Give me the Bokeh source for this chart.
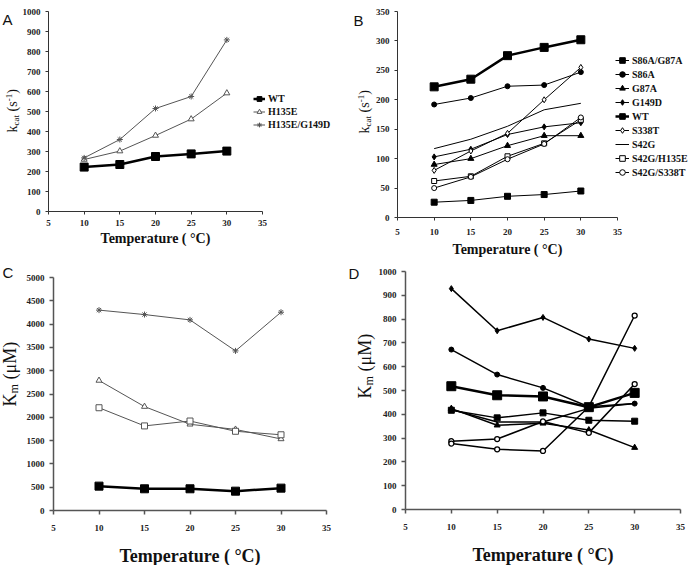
import numpy as np
from bokeh.plotting import figure
from bokeh.models import Legend, LegendItem, Label, Range1d, FixedTicker
from bokeh.layouts import column, row
from bokeh.embed import file_html
from bokeh.resources import INLINE

# ---------------- data ----------------
temperature = [10, 15, 20, 25, 30]
x_ticks = [5, 10, 15, 20, 25, 30, 35]

# Panel A: kcat (s^-1)
kcat_a_wt = [222, 235, 275, 288, 302]
kcat_a_h135e = [260, 302, 380, 462, 592]
kcat_a_h135e_g149d = [268, 360, 515, 575, 858]
ticks_a = list(range(0, 1001, 100))

# Panel B: kcat (s^-1)
kcat_b_s86a_g87a = [26, 29, 36, 39, 45]
kcat_b_s86a = [192, 203, 223, 225, 247]
kcat_b_g87a = [90, 100, 122, 139, 139]
kcat_b_g149d = [103, 116, 141, 154, 161]
kcat_b_wt = [222, 235, 275, 289, 302]
kcat_b_s338t = [80, 113, 143, 200, 255]
kcat_b_s42g = [117, 133, 155, 183, 194]
kcat_b_s42g_h135e = [62, 70, 104, 126, 166]
kcat_b_s42g_s338t = [50, 69, 99, 125, 170]
ticks_b = list(range(0, 351, 50))

# Panel C: Km (uM)
km_c_wt = [523, 466, 466, 415, 480]
km_c_h135e = [2790, 2230, 1850, 1740, 1535]
km_c_h135e_g149d = [4300, 4205, 4090, 3425, 4255]
km_c_s42g_h135e = [2205, 1815, 1920, 1700, 1625]
ticks_c = list(range(0, 5001, 500))

# Panel D: Km (uM)
km_d_g149d = [928, 751, 807, 716, 677]
km_d_s86a = [672, 567, 511, 432, 445]
km_d_wt = [518, 480, 475, 430, 490]
km_d_s86a_g87a = [417, 385, 406, 375, 371]
km_d_g87a = [424, 354, 362, 334, 260]
km_d_s42g = [420, 368, 368, 425, 445]
km_d_s42g_h135e = [287, 296, 370, 322, 527]
km_d_s42g_s338t = [277, 253, 246, 432, 815]
ticks_d = list(range(0, 1001, 100))

SERIF = "Liberation Serif"
SANS = "Liberation Sans"


def make_panel(W, H, ax_left, ax_right, ax_top, ax_bottom, ymax, yticks,
               tick_out=3, axis_color="#333333", axis_width=1,
               tick_standoff=5, xlabel_size="14px", xlabel_standoff=2):
    """The frame fills the whole panel; the axes sit at fixed data
    positions so that labels and legends in the margins are not clipped."""
    ppx = (ax_right - ax_left) / 30.0
    ppy = (ax_bottom - ax_top) / float(ymax)
    p = figure(width=W, height=H, output_backend="svg",
               toolbar_location=None,
               x_range=Range1d(5 - ax_left / ppx, 35 + (W - ax_right) / ppx),
               y_range=Range1d(-(H - ax_bottom) / ppy, ymax + ax_top / ppy),
               min_border=0)
    p.outline_line_color = None
    p.xgrid.visible = False
    p.ygrid.visible = False
    p.background_fill_color = "white"
    p.border_fill_color = "white"
    p.xaxis.ticker = FixedTicker(ticks=x_ticks)
    p.yaxis.ticker = FixedTicker(ticks=yticks)
    p.xaxis.fixed_location = 0
    p.yaxis.fixed_location = 5
    p.xaxis.bounds = (5, 35)
    p.yaxis.bounds = (0, ymax)
    for ax in (p.xaxis, p.yaxis):
        ax.axis_line_color = axis_color
        ax.axis_line_width = axis_width
        ax.major_tick_line_color = axis_color
        ax.major_tick_line_width = axis_width
        ax.major_tick_in = 0
        ax.major_tick_out = tick_out
        ax.minor_tick_line_color = None
        ax.major_label_text_font = SERIF
        ax.major_label_text_font_style = "bold"
        ax.major_label_text_font_size = "9px"
        ax.major_label_text_color = "#222222"
        ax.major_label_standoff = tick_standoff
    p.yaxis.major_label_standoff = 5
    p.xaxis.axis_label = "Temperature ( °C)"
    p.xaxis.axis_label_text_font = SERIF
    p.xaxis.axis_label_text_font_style = "bold"
    p.xaxis.axis_label_text_font_size = xlabel_size
    p.xaxis.axis_label_text_color = "#111111"
    p.xaxis.axis_label_standoff = xlabel_standoff
    return p


def series(p, ys, marker=None, size=5, fill="black", color="black",
           lw=1.0, mlw=1.0):
    rs = [p.line(temperature, ys, line_color=color, line_width=lw)]
    if marker is not None:
        rs.append(p.scatter(temperature, ys, marker=marker, size=size,
                            fill_color=fill, line_color=color,
                            line_width=mlw))
    return rs


def rotated_label(p, x, y, parts, color="#111111", style="normal"):
    # parts: (text, font size px, sideways shift, advance along the label)
    pos = y
    for text, size, shift, adv in parts:
        p.add_layout(Label(x=x + shift, y=pos, x_units="screen",
                           y_units="screen", text=text, angle=np.pi / 2,
                           text_font=SERIF, text_font_size=f"{size}px",
                           text_font_style=style, text_color=color,
                           text_align="left", text_baseline="middle"))
        pos += adv


def panel_letter(p, x, y, letter):
    p.add_layout(Label(x=x, y=y, x_units="screen", y_units="screen",
                       text=letter, text_font=SANS, text_font_size="15px",
                       text_color="#111111", text_baseline="alphabetic"))


def kcat_label(p, x, y):
    rotated_label(p, x, y, [("k", 14, 0, 7), ("cat", 9, 3, 14),
                            ("(s", 14, 0, 10.2), ("-1", 9, -4, 7.5),
                            (")", 14, 0, 5)])


def km_label(p, x, y):
    rotated_label(p, x, y, [("K", 18, 0, 13), ("m", 12, 4, 14),
                            ("(μM)", 18, 0, 40)])


def make_legend(items, x, y, row_h, glyph_w):
    return Legend(items=items, location=(x, y), label_text_font=SERIF,
                  label_text_font_style="bold", label_text_font_size="10px",
                  label_text_color="#111111", glyph_width=glyph_w,
                  glyph_height=row_h, label_height=row_h, spacing=0,
                  padding=0, margin=0, border_line_color=None,
                  background_fill_alpha=0, label_standoff=3)


# ---------------- panel A ----------------
pa = make_panel(345, 259, 48, 262, 11, 211, 1000, ticks_a)
r_wt = series(pa, kcat_a_wt, "square", 8, lw=2.5)
r_h = series(pa, kcat_a_h135e, "triangle", 6, fill="white", color="#555555")
r_hg = series(pa, kcat_a_h135e_g149d, "asterisk", 6, color="#555555")
pa.add_layout(make_legend([LegendItem(label="WT", renderers=r_wt),
                           LegendItem(label="H135E", renderers=r_h),
                           LegendItem(label="H135E/G149D", renderers=r_hg)],
                          253, 128, 13, 12))
kcat_label(pa, 12, 127)
panel_letter(pa, 2, 240, "A")

# ---------------- panel B ----------------
pb = make_panel(351, 259, 52, 272, 11, 217, 350, ticks_b,
                tick_standoff=8, xlabel_standoff=4)
b_items = [
    ("S86A/G87A", series(pb, kcat_b_s86a_g87a, "square", 6)),
    ("S86A", series(pb, kcat_b_s86a, "circle", 5)),
    ("G87A", series(pb, kcat_b_g87a, "triangle", 6)),
    ("G149D", series(pb, kcat_b_g149d, "diamond", 6)),
    ("WT", series(pb, kcat_b_wt, "square", 8, lw=2.5)),
    ("S338T", series(pb, kcat_b_s338t, "diamond", 6, fill="white")),
    ("S42G", series(pb, kcat_b_s42g)),
    ("S42G/H135E", series(pb, kcat_b_s42g_h135e, "square", 5, fill="white")),
    ("S42G/S338T", series(pb, kcat_b_s42g_s338t, "circle", 5, fill="white")),
]
pb.add_layout(make_legend([LegendItem(label=n, renderers=r) for n, r in b_items],
                          270, 80, 14, 14))
kcat_label(pb, 19, 126)
panel_letter(pb, 8, 239, "B")

# ---------------- panel C ----------------
pc = make_panel(345, 306, 53, 326, 18, 251, 5000, ticks_c, tick_out=4,
                axis_color="#555555", axis_width=1.5, tick_standoff=10,
                xlabel_size="18px", xlabel_standoff=12)
series(pc, km_c_h135e_g149d, "asterisk", 6, color="#555555")
series(pc, km_c_h135e, "triangle", 6, fill="white", color="#555555")
series(pc, km_c_s42g_h135e, "square", 6, fill="white", color="#555555")
series(pc, km_c_wt, "square", 8, lw=2.5)
km_label(pc, 9, 159)
panel_letter(pc, 2, 293, "C")

# ---------------- panel D ----------------
pd = make_panel(351, 306, 60, 335, 12, 250, 1000, ticks_d, tick_out=4,
                axis_color="#555555", axis_width=1.5, tick_standoff=10,
                xlabel_size="18px", xlabel_standoff=12)
series(pd, km_d_g149d, "diamond", 6, lw=1.5)
series(pd, km_d_s86a, "circle", 5, lw=1.5)
series(pd, km_d_s86a_g87a, "square", 6, lw=1.5)
series(pd, km_d_g87a, "triangle", 6, lw=1.5)
series(pd, km_d_s42g, lw=1.5)
series(pd, km_d_s42g_h135e, "circle", 5, fill="white", lw=1.5, mlw=1.3)
series(pd, km_d_s42g_s338t, "circle", 5, fill="white", lw=1.5, mlw=1.3)
series(pd, km_d_wt, "square", 9, lw=2.5)
km_label(pd, 19, 167)
panel_letter(pd, 3, 292, "D")

layout = column(row(pa, pb, spacing=0), row(pc, pd, spacing=0), spacing=0)

with open("out.html", "w") as f:
    f.write(file_html(layout, INLINE))
